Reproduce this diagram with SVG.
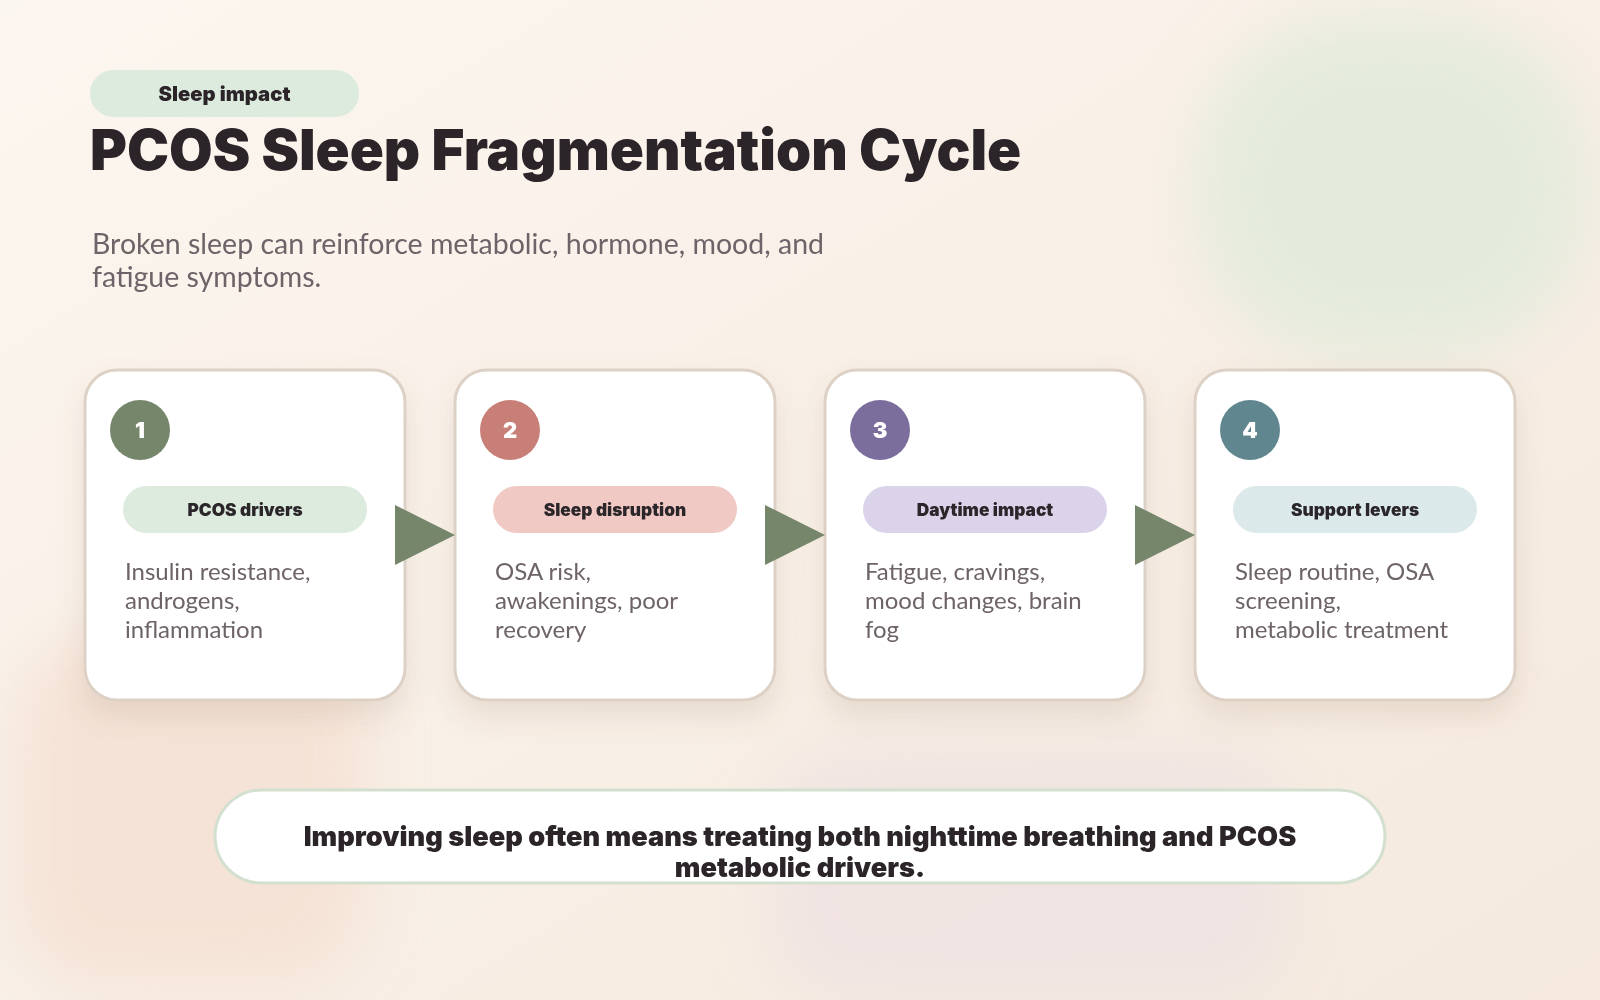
<svg xmlns="http://www.w3.org/2000/svg" width="1600" height="1000" viewBox="0 0 1600 1000">
<defs>
<linearGradient id="bg" x1="0" y1="0" x2="1" y2="1">
<stop offset="0" stop-color="#fcf6f0"/>
<stop offset="1" stop-color="#f5e9dd"/>
</linearGradient>
<filter id="blur" x="-50%" y="-50%" width="200%" height="200%"><feGaussianBlur stdDeviation="28"/></filter>
<filter id="shadow" x="-20%" y="-20%" width="140%" height="150%"><feDropShadow dx="0" dy="14" stdDeviation="14" flood-color="#8a6a50" flood-opacity="0.14"/></filter>
<style>
.card{fill:#ffffff;stroke:#ddd1c5;stroke-width:3}
.heavy{font-family:Inter,Lato,"Noto Sans",sans-serif;font-weight:900;fill:#2b2529}
.num{font-family:Inter,Lato,"Noto Sans",sans-serif;font-weight:900;font-size:22px;fill:#ffffff;text-anchor:middle}
.tag{font-family:Inter,Lato,"Noto Sans",sans-serif;font-weight:900;font-size:17.3px;fill:#2b2529;text-anchor:middle}
.body{font-family:Lato,"Noto Sans",sans-serif;font-size:24px;fill:#6d6368}
.arrow{fill:#76866b}
</style>
</defs>
<rect width="1600" height="1000" fill="url(#bg)"/>
<g filter="url(#blur)">
<rect x="1195" y="15" width="395" height="345" rx="160" fill="#e5ebdc"/>
<rect x="15" y="635" width="350" height="350" rx="90" fill="#f4e0d3" opacity="0.85"/>
<rect x="770" y="750" width="520" height="250" rx="80" fill="#efe3e2" opacity="0.9"/>
</g>

<g id="header">
<rect x="90" y="70" width="269" height="47" rx="23.5" fill="#dcebdd"/>
<text class="heavy" x="224.5" y="101" font-size="20.3" text-anchor="middle">Sleep impact</text>
<text class="heavy" x="90" y="170" font-size="56.3">PCOS Sleep Fragmentation Cycle</text>
<text font-family="Lato,'Noto Sans',sans-serif" font-size="28.5" fill="#6d6368"><tspan x="92" y="254">Broken sleep can reinforce metabolic, hormone, mood, and</tspan><tspan x="92" y="287">fatigue symptoms.</tspan></text>
</g>

<g id="node1" filter="url(#shadow)">
<rect class="card" x="85" y="370" width="320" height="330" rx="32"/>
<circle cx="140" cy="430" r="30" fill="#76866b"/>
<text class="num" x="140" y="438">1</text>
<rect x="123" y="486" width="244" height="47" rx="23.5" fill="#dcebdd"/>
<text class="tag" x="245" y="516">PCOS drivers</text>
<text class="body"><tspan x="125" y="580">Insulin resistance,</tspan><tspan x="125" y="609">androgens,</tspan><tspan x="125" y="638">inflammation</tspan></text>
</g>
<g id="node2" filter="url(#shadow)">
<rect class="card" x="455" y="370" width="320" height="330" rx="32"/>
<circle cx="510" cy="430" r="30" fill="#c77f78"/>
<text class="num" x="510" y="438">2</text>
<rect x="493" y="486" width="244" height="47" rx="23.5" fill="#f0c9c4"/>
<text class="tag" x="615" y="516">Sleep disruption</text>
<text class="body"><tspan x="495" y="580">OSA risk,</tspan><tspan x="495" y="609">awakenings, poor</tspan><tspan x="495" y="638">recovery</tspan></text>
</g>
<g id="node3" filter="url(#shadow)">
<rect class="card" x="825" y="370" width="320" height="330" rx="32"/>
<circle cx="880" cy="430" r="30" fill="#7c6e9c"/>
<text class="num" x="880" y="438">3</text>
<rect x="863" y="486" width="244" height="47" rx="23.5" fill="#dbd3e9"/>
<text class="tag" x="985" y="516">Daytime impact</text>
<text class="body"><tspan x="865" y="580">Fatigue, cravings,</tspan><tspan x="865" y="609">mood changes, brain</tspan><tspan x="865" y="638">fog</tspan></text>
</g>
<g id="node4" filter="url(#shadow)">
<rect class="card" x="1195" y="370" width="320" height="330" rx="32"/>
<circle cx="1250" cy="430" r="30" fill="#61878f"/>
<text class="num" x="1250" y="438">4</text>
<rect x="1233" y="486" width="244" height="47" rx="23.5" fill="#dce9eb"/>
<text class="tag" x="1355" y="516">Support levers</text>
<text class="body"><tspan x="1235" y="580">Sleep routine, OSA</tspan><tspan x="1235" y="609">screening,</tspan><tspan x="1235" y="638">metabolic treatment</tspan></text>
</g>

<g id="connectors">
<polygon class="arrow" points="395,505 395,565 455,535"/>
<polygon class="arrow" points="765,505 765,565 825,535"/>
<polygon class="arrow" points="1135,505 1135,565 1195,535"/>
</g>

<g id="footer">
<rect x="215" y="790" width="1170" height="93" rx="46.5" fill="#ffffff" stroke="#d3e0cf" stroke-width="3"/>
<text class="heavy" font-size="27.2" text-anchor="middle"><tspan x="800" y="846">Improving sleep often means treating both nighttime breathing and PCOS</tspan><tspan x="800" y="877">metabolic drivers.</tspan></text>
</g>
</svg>
